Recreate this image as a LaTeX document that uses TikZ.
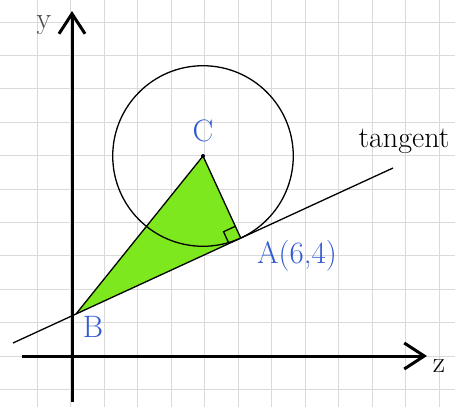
\documentclass[tikz,border=0pt]{standalone}
\usetikzlibrary{arrows.meta,calc}
\definecolor{penblue}{RGB}{50,90,210}
\definecolor{hlgreen}{RGB}{125,232,30}
\definecolor{gridgray}{RGB}{218,218,218}
\definecolor{pencil}{RGB}{70,70,70}
\begin{document}
\begin{tikzpicture}[x=1pt,y=-1pt,
  gridline/.style={gridgray,line width=1pt},
  axisline/.style={line width=3pt,-{Straight Barb[length=20pt,width=26pt,line width=3pt]}},
  thinline/.style={black,line width=1.3pt},
  ptlabel/.style={penblue,font=\fontsize{31}{33}\selectfont,inner sep=0pt},
  txtlabel/.style={font=\fontsize{30}{32}\selectfont,inner sep=0pt}]
\useasboundingbox (0,0) rectangle (455,407);
\fill[white] (0,0) rectangle (455,407);
% grid
\foreach \k in {0,...,12} {
  \draw[gridline] ({37+33.5*\k},0) -- ({37+33.5*\k},407);
}
\foreach \k in {0,...,11} {
  \draw[gridline] (0,{22+33.4*\k}) -- (455,{22+33.4*\k});
}
% geometry
\coordinate (L1) at (13,343);
\coordinate (L2) at (393,168);
\coordinate (C) at (203,156);
\coordinate (A) at ($(L1)!(C)!(L2)$);
\coordinate (B) at ($(L1)!0.1658!(L2)$);
% green triangle
\fill[hlgreen] (B) -- (C) -- (A) -- cycle;
% axes
\coordinate (xs) at (22,356);
\coordinate (xe) at (427,356);
\coordinate (ys) at (72,402);
\coordinate (ye) at (72,11);
\draw[axisline] (xs) -- (xe);
\draw[axisline] (ys) -- (ye);
% circle
\draw[thinline] let \p1=($(A)-(C)$), \n1={veclen(\x1,\y1)} in (C) circle[radius=\n1];
% tangent and triangle sides
\draw[thinline] (L1) -- (L2);
\draw[thinline] (B) -- (C) -- (A);
% right angle marker
\coordinate (R1) at ($(A)!13pt!(C)$);
\coordinate (R3) at ($(A)!13pt!(B)$);
\coordinate (R2) at ($(R1)+(R3)-(A)$);
\draw[thinline] (R1) -- (R2) -- (R3);
\fill (C) circle[radius=2pt];
% labels
\node[txtlabel,text=pencil] (ylab) at (44,25) {y};
\node[txtlabel] (xlab) at (439,366) {z};
\node[ptlabel] (Clab) at (203,131) {C};
\node[ptlabel] (Alab) at (297,256) {A(6,4)};
\node[ptlabel] (Blab) at (93,327) {B};
\node[txtlabel] (tlab) at (404,141) {tangent};
\end{tikzpicture}
\end{document}
